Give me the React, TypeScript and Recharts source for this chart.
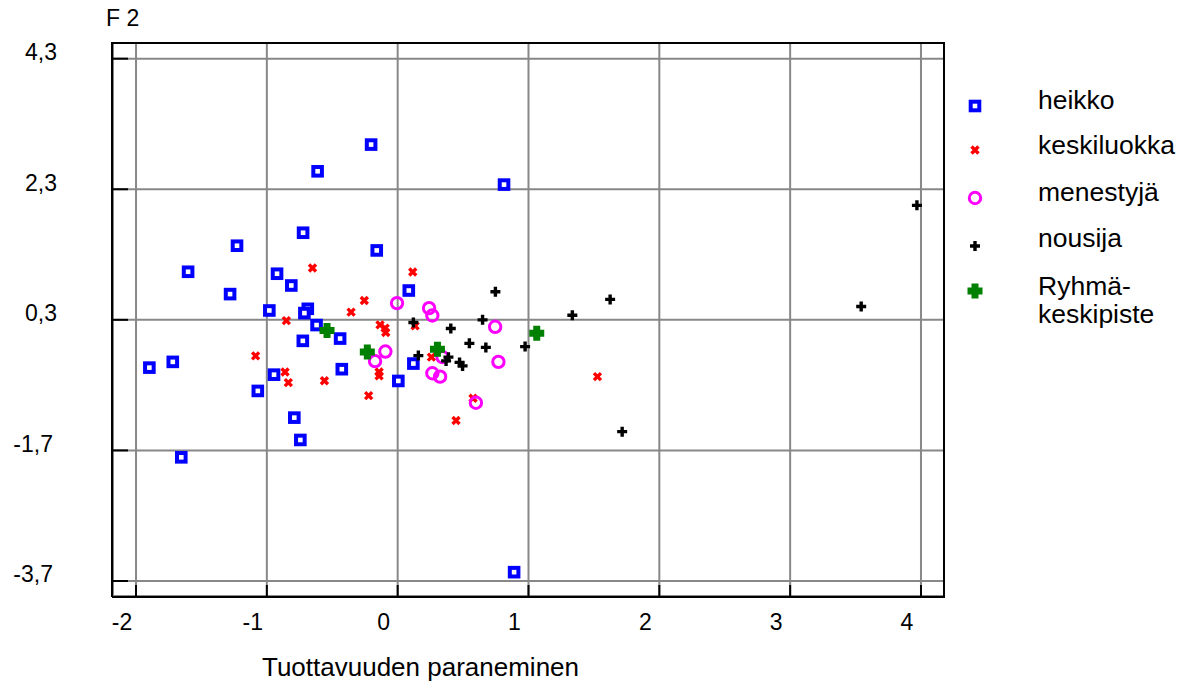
import React from 'react';
import { ScatterChart, Scatter, XAxis, YAxis, CartesianGrid, Legend } from 'recharts';

// ---- data (x = Tuottavuuden paraneminen, y = F 2) ----
const heikko: [number, number][] = [
  [-0.203, 2.984], [-0.612, 2.575], [0.813, 2.371], [-0.723, 1.634], [-1.228, 1.435],
  [-0.16, 1.363], [-1.602, 1.036], [-0.922, 1.006], [-0.813, 0.826], [0.085, 0.749],
  [-1.281, 0.694], [-0.981, 0.443], [-0.687, 0.469], [-0.713, 0.403], [-0.62, 0.22],
  [-0.44, 0.013], [-0.725, -0.022], [-1.719, -0.344], [-1.898, -0.432], [0.12, -0.37],
  [-0.427, -0.456], [-0.945, -0.54], [0.005, -0.636], [-1.069, -0.789], [-0.79, -1.198],
  [-0.744, -1.54], [-1.654, -1.806], [0.89, -3.565],
];
const keskiluokka: [number, number][] = [
  [-0.651, 1.094], [0.115, 1.032], [-0.255, 0.596], [-0.356, 0.418], [-0.851, 0.288],
  [-0.135, 0.223], [-0.096, 0.173], [-0.091, 0.105], [0.133, 0.208], [-1.086, -0.252],
  [0.258, -0.272], [-0.861, -0.498], [-0.142, -0.498], [-0.142, -0.559], [-0.56, -0.633],
  [-0.836, -0.662], [-0.222, -0.861], [0.576, -0.901], [0.446, -1.241], [1.527, -0.57],
];
const menestyja: [number, number][] = [
  [-0.005, 0.556], [0.24, 0.479], [0.265, 0.366], [0.745, 0.193], [-0.094, -0.186],
  [-0.173, -0.333], [0.343, -0.272], [0.77, -0.344], [0.265, -0.518], [0.324, -0.57],
  [0.598, -0.97],
];
const nousija: [number, number][] = [
  [0.12, 0.259], [0.747, 0.729], [1.624, 0.613], [1.335, 0.369], [0.649, 0.3],
  [0.406, 0.167], [0.548, -0.06], [0.674, -0.122], [0.974, -0.11], [0.158, -0.248],
  [0.388, -0.272], [0.37, -0.329], [0.473, -0.352], [0.496, -0.406], [1.716, -1.413],
  [3.543, 0.504], [3.969, 2.053],
];
const ryhmakeskipiste: [number, number][] = [
  [-0.54, 0.136], [-0.232, -0.191], [0.304, -0.149], [1.063, 0.093],
];

const seriesNames = ['heikko', 'keskiluokka', 'menestyjä', 'nousija', 'Ryhmä-keskipiste'];

const xDomain: [number, number] = [-2.176, 4.176];
const yDomain: [number, number] = [-3.93, 4.54];
const xMajorTicks = [-2, -1, 0, 1, 2, 3, 4];
const xTickLabels = ['-2', '-1', '0', '1', '2', '3', '4'];
const xMinorTicks = [
  -2, -1.8, -1.6, -1.4, -1.2, -1, -0.8, -0.6, -0.4, -0.2, 0, 0.2, 0.4, 0.6, 0.8, 1,
  1.2, 1.4, 1.6, 1.8, 2, 2.2, 2.4, 2.6, 2.8, 3, 3.2, 3.4, 3.6, 3.8, 4,
];
const yMajorTicks = [4.3, 2.3, 0.3, -1.7, -3.7];
const yTickLabels = ['4,3', '2,3', '0,3', '-1,7', '-3,7'];
const yMinorTicks = [
  4.3, 3.8, 3.3, 2.8, 2.3, 1.8, 1.3, 0.8, 0.3, -0.2, -0.7, -1.2, -1.7, -2.2, -2.7, -3.2, -3.7,
];

const toPoints = (arr: [number, number][]) => arr.map(([x, y]) => ({ x, y }));

const FONT = '"Liberation Sans", Arial, sans-serif';

// ---- marker shapes ----
const SquareMark = (p: any) => (
  <rect x={p.cx - 4.3} y={p.cy - 4.3} width={8.6} height={8.6} fill="#ffffff" stroke="#0000ff" strokeWidth={4} />
);
const CrossMark = (p: any) => (
  <path
    d={`M${p.cx - 3.5},${p.cy - 3.5}L${p.cx + 3.5},${p.cy + 3.5}M${p.cx + 3.5},${p.cy - 3.5}L${p.cx - 3.5},${p.cy + 3.5}`}
    stroke="#ff0000"
    strokeWidth={3.4}
    fill="none"
  />
);
const CircleMark = (p: any) => (
  <circle cx={p.cx} cy={p.cy} r={5.7} fill="none" stroke="#ff00ff" strokeWidth={3} />
);
const PlusMark = (p: any) => (
  <path d={`M${p.cx - 5},${p.cy}H${p.cx + 5}M${p.cx},${p.cy - 5}V${p.cy + 5}`} stroke="#000000" strokeWidth={3.4} fill="none" />
);
const BigPlusMark = (p: any) => (
  <path d={`M${p.cx - 7.5},${p.cy}H${p.cx + 7.5}M${p.cx},${p.cy - 7.5}V${p.cy + 7.5}`} stroke="#008000" strokeWidth={7} fill="none" />
);

// ---- tick labels ----
const XTick = (p: any) => {
  const i = xMajorTicks.indexOf(p.payload.value);
  return (
    <text x={p.x - 14} y={630} textAnchor="middle" fontSize={23} fontFamily={FONT} fill="#000">
      {xTickLabels[i]}
    </text>
  );
};
const YTick = (p: any) => {
  const i = yMajorTicks.indexOf(p.payload.value);
  const neg = p.payload.value < 0;
  return (
    <text x={neg ? 53 : 57} y={p.y + 1.5} textAnchor="end" fontSize={23} fontFamily={FONT} fill="#000">
      {yTickLabels[i]}
    </text>
  );
};

const XTitle = (p: any) => {
  const vb = p.viewBox;
  return (
    <text x={vb.x + 307.5} y={vb.y + 79} textAnchor="middle" fontSize={26} fontFamily={FONT} fill="#000">
      Tuottavuuden paraneminen
    </text>
  );
};
const YTitle = (p: any) => {
  const vb = p.viewBox;
  return (
    <text x={106} y={vb.y - 17} textAnchor="start" fontSize={23} fontFamily={FONT} fill="#000">
      F 2
    </text>
  );
};

const LegendBox = () => {
  const rows = [
    { M: SquareMark, cy: 26 },
    { M: CrossMark, cy: 70 },
    { M: CircleMark, cy: 118 },
    { M: PlusMark, cy: 166 },
    { M: BigPlusMark, cy: 211 },
  ];
  const textY = [29, 74, 121, 167];
  return (
    <svg width={231} height={260} style={{ display: 'block', overflow: 'visible' }}>
      {rows.map((r, i) => (
        <r.M key={i} cx={25} cy={r.cy} />
      ))}
      {textY.map((ty, i) => (
        <text key={i} x={88} y={ty} fontSize={26.5} fontFamily={FONT} fill="#000">
          {seriesNames[i]}
        </text>
      ))}
      <text x={88} y={215} fontSize={26.5} fontFamily={FONT} fill="#000">
        {seriesNames[4].split('-')[0] + '-'}
      </text>
      <text x={88} y={243} fontSize={26.5} fontFamily={FONT} fill="#000">
        {seriesNames[4].split('-')[1]}
      </text>
    </svg>
  );
};

const frameLine = { stroke: '#000', strokeWidth: 2, strokeLinecap: 'square' as const };
const tickLineStyle = { stroke: '#000', strokeWidth: 2 };

export default function App() {
  return (
    <div style={{ position: 'absolute', left: 0, top: 0, width: 1181, height: 682, background: '#fff' }}>
      <ScatterChart width={1181} height={682} margin={{ top: 41, right: 235, bottom: 84, left: 111 }}>
        {/* main axes */}
        <XAxis
          xAxisId="main"
          type="number"
          dataKey="x"
          domain={xDomain}
          allowDataOverflow
          ticks={xMajorTicks}
          interval={0}
          orientation="bottom"
          height={1}
          tickSize={-12}
          tickLine={tickLineStyle}
          axisLine={frameLine}
          tick={<XTick />}
          label={(p: any) => <XTitle {...p} />}
        />
        <YAxis
          yAxisId="main"
          type="number"
          dataKey="y"
          domain={yDomain}
          allowDataOverflow
          ticks={yMajorTicks}
          interval={0}
          orientation="left"
          width={1}
          tickSize={-16}
          tickLine={tickLineStyle}
          axisLine={frameLine}
          tick={<YTick />}
          label={(p: any) => <YTitle {...p} />}
        />
        <XAxis
          xAxisId="top"
          type="number"
          domain={xDomain}
          allowDataOverflow
          ticks={xMajorTicks}
          interval={0}
          orientation="top"
          height={1}
          tickSize={-11}
          tickLine={tickLineStyle}
          axisLine={frameLine}
          tick={false}
        />
        <YAxis
          yAxisId="right"
          type="number"
          domain={yDomain}
          allowDataOverflow
          ticks={yMajorTicks}
          interval={0}
          orientation="right"
          width={1}
          tickSize={-17}
          tickLine={tickLineStyle}
          axisLine={frameLine}
          tick={false}
        />
        {/* minor tick axes */}
        <XAxis
          xAxisId="bottomMinor"
          type="number"
          domain={xDomain}
          allowDataOverflow
          ticks={xMinorTicks}
          interval={0}
          orientation="bottom"
          height={1}
          tickSize={-7}
          tickLine={tickLineStyle}
          axisLine={false}
          tick={false}
        />
        <XAxis
          xAxisId="topMinor"
          type="number"
          domain={xDomain}
          allowDataOverflow
          ticks={xMinorTicks}
          interval={0}
          orientation="top"
          height={1}
          tickSize={-7}
          tickLine={tickLineStyle}
          axisLine={false}
          tick={false}
        />
        <YAxis
          yAxisId="leftMinor"
          type="number"
          domain={yDomain}
          allowDataOverflow
          ticks={yMinorTicks}
          interval={0}
          orientation="left"
          width={1}
          tickSize={-8}
          tickLine={tickLineStyle}
          axisLine={false}
          tick={false}
        />
        <YAxis
          yAxisId="rightMinor"
          type="number"
          domain={yDomain}
          allowDataOverflow
          ticks={yMinorTicks}
          interval={0}
          orientation="right"
          width={1}
          tickSize={-8}
          tickLine={tickLineStyle}
          axisLine={false}
          tick={false}
        />
        <CartesianGrid xAxisId="main" yAxisId="main" stroke="#888888" strokeWidth={2} />
        <Scatter name={seriesNames[0]} xAxisId="main" yAxisId="main" data={toPoints(heikko)} shape={SquareMark} isAnimationActive={false} />
        <Scatter name={seriesNames[1]} xAxisId="main" yAxisId="main" data={toPoints(keskiluokka)} shape={CrossMark} isAnimationActive={false} />
        <Scatter name={seriesNames[2]} xAxisId="main" yAxisId="main" data={toPoints(menestyja)} shape={CircleMark} isAnimationActive={false} />
        <Scatter name={seriesNames[3]} xAxisId="main" yAxisId="main" data={toPoints(nousija)} shape={PlusMark} isAnimationActive={false} />
        <Scatter name={seriesNames[4]} xAxisId="main" yAxisId="main" data={toPoints(ryhmakeskipiste)} shape={BigPlusMark} isAnimationActive={false} />
        <Legend
          layout="vertical"
          align="center"
          verticalAlign="middle"
          wrapperStyle={{ position: 'absolute', left: 950, top: 80, width: 231, height: 260 }}
          content={() => <LegendBox />}
        />
      </ScatterChart>
    </div>
  );
}
